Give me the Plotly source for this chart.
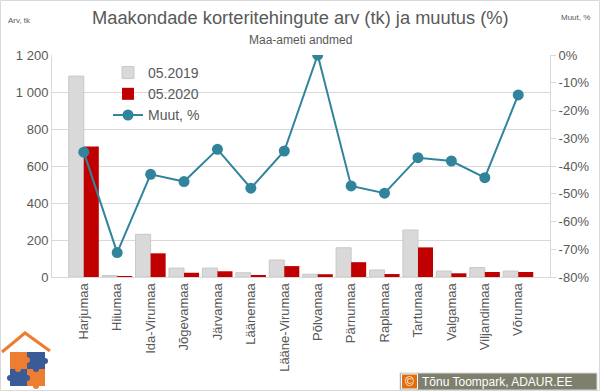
import plotly.graph_objects as go

categories = ["Harjumaa", "Hiiumaa", "Ida-Virumaa", "Jõgevamaa", "Järvamaa", "Läänemaa",
              "Lääne-Virumaa", "Põlvamaa", "Pärnumaa", "Raplamaa", "Tartumaa", "Valgamaa",
              "Viljandimaa", "Võrumaa"]
v2019 = [1086, 8, 231, 48, 48, 23, 92, 15, 158, 38, 254, 32, 51, 32]
v2020 = [706, 2, 128, 23, 31, 11, 59, 15, 80, 16, 160, 20, 27, 27]
muut = [-0.35, -0.712, -0.43, -0.456, -0.34, -0.48, -0.346, 0.0, -0.472, -0.498, -0.37, -0.382, -0.442, -0.144]

left_ticks = [0, 200, 400, 600, 800, 1000, 1200]
left_ticktext = ["0", "200", "400", "600", "800", "1 000", "1 200"]
right_ticks = [0, -0.1, -0.2, -0.3, -0.4, -0.5, -0.6, -0.7, -0.8]
right_ticktext = ["0%", "-10%", "-20%", "-30%", "-40%", "-50%", "-60%", "-70%", "-80%"]

W, H = 600, 392
L, R, T, B = 52, 50, 55, 115
PW, PH = W - L - R, H - T - B

def px(x):
    return (x - L) / PW

def py(y):
    return (H - B - y) / PH

FONT = "Liberation Sans"
GRAY = "#595959"

fig = go.Figure()
fig.add_trace(go.Bar(x=categories, y=v2019, name="05.2019",
                     marker=dict(color="#d9d9d9", line=dict(color="#c8c8c8", width=1))))
fig.add_trace(go.Bar(x=categories, y=v2020, name="05.2020",
                     marker=dict(color="#c00000", line=dict(width=0))))
fig.add_trace(go.Scatter(x=categories, y=muut, name="Muut, %", yaxis="y2",
                         mode="lines+markers",
                         line=dict(color="#31849b", width=2),
                         marker=dict(color="#31849b", size=11)))

shapes = []
# chart border
shapes.append(dict(type="rect", xref="paper", yref="paper", x0=px(0.5), x1=px(599.5),
                   y0=py(0.5), y1=py(390.5), line=dict(color="#d9d9d9", width=1), layer="below"))
# logo: roof
shapes.append(dict(type="path", xref="paper", yref="paper",
                   path=f"M {px(2)},{py(352)} L {px(25)},{py(333)} L {px(50)},{py(351)}",
                   line=dict(color="#ed7d31", width=3)))
# logo: puzzle quadrants
quads = [(10, 27, 352, 369, "#ed7d31"), (27, 45, 352, 369, "#3a5a98"),
         (10, 27, 369, 386, "#3a5a98"), (27, 45, 369, 386, "#ed7d31")]
for x0, x1, y0, y1, c in quads:
    shapes.append(dict(type="rect", xref="paper", yref="paper", x0=px(x0), x1=px(x1),
                       y0=py(y1), y1=py(y0), fillcolor=c, line=dict(width=0)))
# puzzle knobs
knobs = [(27, 360, "#ed7d31"), (18, 369, "#ed7d31"), (36, 369, "#3a5a98"), (27, 378, "#3a5a98"),
         (10, 378, "#3a5a98"), (45, 361, "#3a5a98"), (36, 386, "#ed7d31")]
for cx, cy, c in knobs:
    shapes.append(dict(type="circle", xref="paper", yref="paper", x0=px(cx - 3), x1=px(cx + 3),
                       y0=py(cy + 3), y1=py(cy - 3), fillcolor=c, line=dict(width=0)))
# copyright box
shapes.append(dict(type="rect", xref="paper", yref="paper", x0=px(400), x1=px(597),
                   y0=py(390), y1=py(373), fillcolor="#7f7f6e", line=dict(color="#d9d9d9", width=1)))
shapes.append(dict(type="rect", xref="paper", yref="paper", x0=px(401.5), x1=px(417.5),
                   y0=py(389), y1=py(374), fillcolor="#e46c0a", line=dict(color="#ffffff", width=1)))

annotations = [
    dict(text="Maakondade korteritehingute arv (tk) ja muutus (%)", x=px(300), y=py(18),
         xref="paper", yref="paper", showarrow=False, xanchor="center", yanchor="middle",
         font=dict(family=FONT, size=18.3, color=GRAY)),
    dict(text="Maa-ameti andmed", x=px(300), y=py(40), xref="paper", yref="paper",
         showarrow=False, xanchor="center", yanchor="middle",
         font=dict(family=FONT, size=12, color=GRAY)),
    dict(text="Arv, tk", x=px(6), y=py(20), xref="paper", yref="paper", showarrow=False,
         xanchor="left", yanchor="middle", font=dict(family=FONT, size=8, color=GRAY)),
    dict(text="Muut, %", x=px(559), y=py(18), xref="paper", yref="paper", showarrow=False,
         xanchor="left", yanchor="middle", font=dict(family=FONT, size=8, color=GRAY)),
    dict(text="©", x=px(409.5), y=py(381.5), xref="paper", yref="paper", showarrow=False,
         xanchor="center", yanchor="middle", font=dict(family=FONT, size=12, color="#ffffff")),
    dict(text="Tõnu Toompark, ADAUR.EE", x=px(420), y=py(381.5), xref="paper", yref="paper",
         showarrow=False, xanchor="left", yanchor="middle",
         font=dict(family=FONT, size=12, color="#ffffff")),
]

fig.update_layout(
    width=W, height=H,
    margin=dict(l=L, r=R, t=T, b=B, pad=0),
    paper_bgcolor="#ffffff", plot_bgcolor="#ffffff",
    barmode="group", bargap=0.1, bargroupgap=0,
    font=dict(family=FONT, color=GRAY),
    showlegend=True,
    legend=dict(x=px(108), y=py(57), xanchor="left", yanchor="top",
                bgcolor="rgba(0,0,0,0)", font=dict(family=FONT, size=14, color=GRAY),
                tracegroupgap=0, itemwidth=30),
    xaxis=dict(type="category", tickangle=-90, tickfont=dict(family=FONT, size=13, color=GRAY),
               showline=True, linecolor="#d9d9d9", linewidth=1, ticks="", showgrid=False),
    yaxis=dict(range=[0, 1200], tickvals=left_ticks, ticktext=left_ticktext,
               tickfont=dict(family=FONT, size=13, color=GRAY),
               showgrid=True, gridcolor="#d9d9d9", gridwidth=1, zeroline=False,
               showline=True, linecolor="#d9d9d9", ticks="", ticklen=0),
    yaxis2=dict(range=[-0.8, 0], overlaying="y", side="right",
                tickvals=right_ticks, ticktext=right_ticktext,
                tickfont=dict(family=FONT, size=13, color=GRAY),
                showgrid=False, zeroline=False, showline=True, linecolor="#d9d9d9",
                ticks="outside", ticklen=5, tickcolor="#d9d9d9"),
    shapes=shapes,
    annotations=annotations,
)

fig.write_html("out.html", config={"displayModeBar": False},
               post_script="document.body.style.margin='0';document.body.style.overflow='hidden';")
